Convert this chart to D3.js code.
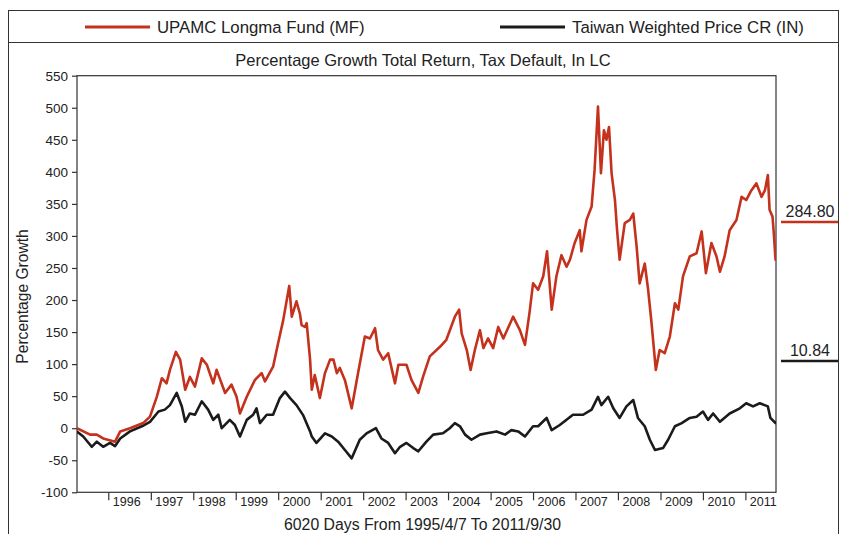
<!DOCTYPE html>
<html><head><meta charset="utf-8">
<script src="https://cdn.jsdelivr.net/npm/d3@7"></script>
<style>
html,body{margin:0;padding:0;background:#fff;}
svg{display:block;font-family:"Liberation Sans",Arial,sans-serif;}
</style></head>
<body>
<svg id="chart" width="841" height="534"></svg>
<script>
// ---- data (decimal year, percentage growth) ----
const fundYears = [1995.26,1995.57,1995.73,1995.88,1996.16,1996.28,1996.51,1996.82,1996.98,1997.14,1997.26,1997.37,1997.45,1997.59,1997.69,1997.81,1997.92,1998.04,1998.20,1998.32,1998.47,1998.55,1998.75,1998.90,1999.02,1999.10,1999.26,1999.45,1999.61,1999.69,1999.88,2000.00,2000.12,2000.26,2000.32,2000.43,2000.51,2000.55,2000.63,2000.67,2000.75,2000.79,2000.86,2000.98,2001.10,2001.22,2001.30,2001.38,2001.45,2001.57,2001.73,2001.88,2002.04,2002.16,2002.28,2002.35,2002.47,2002.59,2002.75,2002.83,2003.02,2003.14,2003.30,2003.41,2003.57,2003.81,2003.96,2004.16,2004.26,2004.32,2004.44,2004.53,2004.63,2004.75,2004.83,2004.94,2005.06,2005.18,2005.30,2005.53,2005.69,2005.81,2005.92,2006.00,2006.12,2006.24,2006.33,2006.44,2006.55,2006.67,2006.79,2006.87,2006.98,2007.10,2007.14,2007.26,2007.38,2007.45,2007.53,2007.60,2007.67,2007.73,2007.79,2007.85,2007.93,2007.98,2008.04,2008.16,2008.28,2008.36,2008.44,2008.51,2008.63,2008.71,2008.79,2008.89,2008.98,2009.10,2009.22,2009.34,2009.42,2009.53,2009.69,2009.85,2009.97,2010.07,2010.20,2010.32,2010.40,2010.51,2010.63,2010.79,2010.91,2011.02,2011.14,2011.26,2011.38,2011.46,2011.53,2011.57,2011.64,2011.67,2011.71,2011.75];
const fundValues = [0,-10,-10,-16,-21,-5,0,8,18,49,78,70,91,119,107,60,80,65,109,99,70,91,55,68,49,23,49,75,86,73,96,133,169,222,174,198,179,161,158,164,107,60,83,47,86,107,107,86,94,75,31,86,143,140,156,122,107,117,70,99,99,75,55,80,112,127,138,174,185,148,122,91,122,153,125,140,125,158,140,174,153,130,182,226,216,237,276,185,237,270,252,263,289,309,276,325,346,403,502,398,465,450,470,398,356,309,263,320,325,335,283,226,257,216,164,91,122,117,143,195,185,237,268,273,307,242,289,268,244,268,309,325,361,356,371,382,361,371,395,341,330,304,263,284.8];

const indexYears = [1995.26,1995.41,1995.61,1995.73,1995.88,1996.04,1996.16,1996.28,1996.51,1996.79,1996.98,1997.18,1997.33,1997.45,1997.61,1997.73,1997.81,1997.92,1998.04,1998.20,1998.35,1998.47,1998.59,1998.67,1998.86,1998.98,1999.10,1999.26,1999.41,1999.49,1999.57,1999.73,1999.88,2000.04,2000.16,2000.28,2000.43,2000.59,2000.75,2000.79,2000.90,2001.10,2001.26,2001.41,2001.57,2001.73,2001.92,2002.08,2002.30,2002.43,2002.59,2002.75,2002.87,2003.02,2003.18,2003.30,2003.49,2003.65,2003.88,2004.04,2004.16,2004.28,2004.40,2004.55,2004.75,2004.91,2005.14,2005.34,2005.49,2005.65,2005.81,2006.00,2006.12,2006.32,2006.44,2006.63,2006.94,2007.18,2007.38,2007.53,2007.61,2007.77,2007.89,2008.04,2008.20,2008.36,2008.47,2008.63,2008.75,2008.87,2009.06,2009.18,2009.34,2009.50,2009.69,2009.85,2010.00,2010.12,2010.24,2010.40,2010.63,2010.87,2011.02,2011.18,2011.34,2011.53,2011.59,2011.71,2011.75];
const indexValues = [-5,-13,-29,-21,-29,-23,-28,-16,-5,3,10,26,29,36,55,34,10,23,21,42,29,13,21,0,13,5,-13,13,21,31,8,21,21,47,57,47,36,20,-5,-13,-23,-8,-13,-21,-34,-47,-18,-8,0,-16,-23,-39,-29,-23,-31,-36,-21,-10,-8,0,8,3,-10,-18,-10,-8,-5,-10,-3,-5,-13,3,3,16,-3,5,21,21,29,49,36,49,31,16,34,44,16,3,-18,-34,-31,-18,3,8,16,18,26,13,23,10,23,31,39,34,39,34,16,8,10.84];

const seriesNames = ["UPAMC Longma Fund (MF)", "Taiwan Weighted Price CR (IN)"];
const lastValueLabels = ["284.80", "10.84"];
const yTickValues = [-100,-50,0,50,100,150,200,250,300,350,400,450,500,550];
const xTickYears = [1996,1997,1998,1999,2000,2001,2002,2003,2004,2005,2006,2007,2008,2009,2010,2011];
const startDate = "1995-04-07", endDate = "2011-09-30";
const titleText = "Percentage Growth Total Return, Tax Default, In LC";
const yAxisTitle = "Percentage Growth";
const xAxisTitle = "6020 Days From 1995/4/7 To 2011/9/30";

// ---- helpers ----
function fromDecimalYear(y){
  const yr = Math.floor(y);
  const a = new Date(yr,0,1), b = new Date(yr+1,0,1);
  return new Date(+a + (y-yr)*(b-a));
}
const parse = d3.timeParse("%Y-%m-%d");

const RED = "#c4311d", BLACK = "#1b1b1b", FRAME = "#333";
const svg = d3.select("#chart");

const plot = {left:77, right:777, top:75.7, bottom:492.3};

const x = d3.scaleTime().domain([parse(startDate), parse(endDate)]).range([plot.left, plot.right]);
const y = d3.scaleLinear().domain([-100,550]).range([plot.bottom, plot.top]);

// outer frame
svg.append("rect").attr("x",8.5).attr("y",10.5).attr("width",830).attr("height",540)
  .attr("fill","none").attr("stroke",FRAME).attr("stroke-width",1);
svg.append("line").attr("x1",8.5).attr("x2",838.5).attr("y1",42.5).attr("y2",42.5)
  .attr("stroke",FRAME).attr("stroke-width",1);

// legend
const legend = [
  {name:seriesNames[0], color:RED, x:85},
  {name:seriesNames[1], color:BLACK, x:500}
];
legend.forEach(l=>{
  svg.append("line").attr("x1",l.x).attr("x2",l.x+65).attr("y1",27).attr("y2",27)
    .attr("stroke",l.color).attr("stroke-width",3);
  svg.append("text").attr("x",l.x+72).attr("y",32.5).attr("font-size",16.8)
    .attr("fill","#222").text(l.name);
});

// title
svg.append("text").attr("x",423).attr("y",65.5).attr("text-anchor","middle")
  .attr("font-size",16.5).attr("fill","#222").text(titleText);

// plot box
svg.append("rect").attr("x",plot.left).attr("y",plot.top)
  .attr("width",776-plot.left).attr("height",plot.bottom-plot.top)
  .attr("fill","none").attr("stroke",FRAME).attr("stroke-width",1.2);

// y axis
const yAxis = d3.axisLeft(y).tickValues(yTickValues).tickSize(5).tickPadding(4).tickFormat(d => String(d));
const gy = svg.append("g").attr("transform",`translate(${plot.left},0)`).call(yAxis);
gy.select(".domain").remove();
gy.selectAll(".tick line").attr("stroke",FRAME).attr("stroke-width",1.2);
gy.selectAll(".tick text").attr("font-size",13.5).attr("fill","#222")
  .attr("font-family","Liberation Sans, Arial, sans-serif");

// x axis
const xAxis = d3.axisBottom(x).tickValues(xTickYears.map(yr=>new Date(yr,0,1))).tickSize(8).tickFormat("");
const gx = svg.append("g").attr("transform",`translate(0,${plot.bottom})`).call(xAxis);
gx.select(".domain").remove();
gx.selectAll(".tick line").attr("stroke",FRAME).attr("stroke-width",1.2);
gx.selectAll(".tick").append("text")
  .attr("x",4).attr("y",14).attr("fill","#222").attr("font-size",12.5)
  .attr("text-anchor","start")
  .attr("font-family","Liberation Sans, Arial, sans-serif")
  .text(d=>d.getFullYear());

// axis titles
svg.append("text").attr("transform","translate(28,296.5) rotate(-90)")
  .attr("text-anchor","middle").attr("font-size",15.6).attr("fill","#222").text(yAxisTitle);
svg.append("text").attr("x",422.5).attr("y",530).attr("text-anchor","middle")
  .attr("font-size",15.8).attr("fill","#222").text(xAxisTitle);

// clip
svg.append("clipPath").attr("id","clip").append("rect")
  .attr("x",plot.left).attr("y",plot.top).attr("width",776-plot.left).attr("height",plot.bottom-plot.top);

const line = d3.line().x(d=>x(d.date)).y(d=>y(d.value));
const fundData = fundYears.map((yr,i)=>({date:fromDecimalYear(yr), value:fundValues[i]}));
const indexData = indexYears.map((yr,i)=>({date:fromDecimalYear(yr), value:indexValues[i]}));

const lines = svg.append("g").attr("clip-path","url(#clip)");
lines.append("path").datum(indexData).attr("d",line).attr("fill","none")
  .attr("stroke",BLACK).attr("stroke-width",2.6).attr("stroke-linejoin","round");
lines.append("path").datum(fundData).attr("d",line).attr("fill","none")
  .attr("stroke",RED).attr("stroke-width",2.6).attr("stroke-linejoin","round");

// right-side last value labels
const lastLabels = [
  {text:lastValueLabels[0], color:RED, ly:222},
  {text:lastValueLabels[1], color:BLACK, ly:361}
];
lastLabels.forEach(l=>{
  svg.append("line").attr("x1",781).attr("x2",838).attr("y1",l.ly).attr("y2",l.ly)
    .attr("stroke",l.color).attr("stroke-width",2.5);
  svg.append("text").attr("x",810).attr("y",l.ly-5).attr("text-anchor","middle")
    .attr("font-size",16).attr("fill","#222").text(l.text);
});
</script>
</body></html>
